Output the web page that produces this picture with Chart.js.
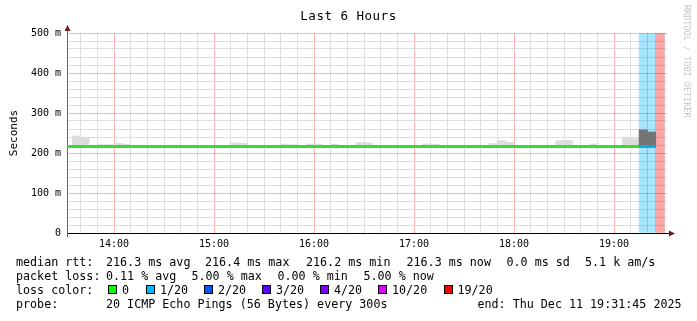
<!DOCTYPE html>
<html>
<head>
<meta charset="utf-8">
<script src="https://cdn.jsdelivr.net/npm/chart.js@4.4.1/dist/chart.umd.min.js"></script>
<style>
  html, body { margin: 0; padding: 0; background: #fff; }
  #wrap { position: relative; width: 697px; height: 321px; overflow: hidden;
          font-family: 'DejaVu Sans Mono', monospace; color: #000; }
  #chart { position: absolute; left: 0; top: 0; }
  .title { position: absolute; left: 0; top: 8px; width: 697px; text-align: center;
           font-size: 12.5px; letter-spacing: 0.5px; line-height: 16px; }
  .watermark { position: absolute; left: 682px; top: 5px; writing-mode: vertical-rl;
               font-size: 8.5px; line-height: 10px; color: #c6c6c6; white-space: pre; }
  .leg { position: absolute; font-size: 11.7px; line-height: 14px; white-space: pre; }
  .box { position: absolute; top: 285px; width: 7px; height: 7px; border: 1px solid #000; }
</style>
</head>
<body>
<div id="wrap">
  <canvas id="chart" width="697" height="321"></canvas>
  <div class="title">Last 6 Hours</div>
  <div class="watermark">RRDTOOL / TOBI OETIKER</div>

  <span class="leg" style="left:16px;top:255px">median rtt:</span>
  <span class="leg" style="left:106px;top:255px">216.3 ms avg</span>
  <span class="leg" style="left:205px;top:255px">216.4 ms max</span>
  <span class="leg" style="left:306px;top:255px">216.2 ms min</span>
  <span class="leg" style="left:406.5px;top:255px">216.3 ms now</span>
  <span class="leg" style="left:506.5px;top:255px">0.0 ms sd</span>
  <span class="leg" style="left:585px;top:255px">5.1 k am/s</span>

  <span class="leg" style="left:16px;top:269px">packet loss:</span>
  <span class="leg" style="left:106px;top:269px">0.11 % avg</span>
  <span class="leg" style="left:191.5px;top:269px">5.00 % max</span>
  <span class="leg" style="left:277.5px;top:269px">0.00 % min</span>
  <span class="leg" style="left:363.5px;top:269px">5.00 % now</span>

  <span class="leg" style="left:16px;top:283px">loss color:</span>
  <span class="box" style="left:108px;background:#00ff00"></span><span class="leg" style="left:122px;top:283px">0</span>
  <span class="box" style="left:146px;background:#00b8ff"></span><span class="leg" style="left:160px;top:283px">1/20</span>
  <span class="box" style="left:204px;background:#0059ff"></span><span class="leg" style="left:218px;top:283px">2/20</span>
  <span class="box" style="left:262px;background:#5e00ff"></span><span class="leg" style="left:276px;top:283px">3/20</span>
  <span class="box" style="left:320px;background:#7e00ff"></span><span class="leg" style="left:334px;top:283px">4/20</span>
  <span class="box" style="left:378px;background:#dd00ff"></span><span class="leg" style="left:392px;top:283px">10/20</span>
  <span class="box" style="left:443.5px;background:#ff0000"></span><span class="leg" style="left:457.5px;top:283px">19/20</span>

  <span class="leg" style="left:16px;top:297px">probe:</span>
  <span class="leg" style="left:106px;top:297px">20 ICMP Echo Pings (56 Bytes) every 300s</span>
  <span class="leg" style="left:477.5px;top:297px">end: Thu Dec 11 19:31:45 2025</span>
</div>

<script>
// 5-minute RRD bins (start times)
const BIN_START = [
  '13:30','13:35','13:40','13:45','13:50','13:55','14:00','14:05','14:10','14:15','14:20','14:25',
  '14:30','14:35','14:40','14:45','14:50','14:55','15:00','15:05','15:10','15:15','15:20','15:25',
  '15:30','15:35','15:40','15:45','15:50','15:55','16:00','16:05','16:10','16:15','16:20','16:25',
  '16:30','16:35','16:40','16:45','16:50','16:55','17:00','17:05','17:10','17:15','17:20','17:25',
  '17:30','17:35','17:40','17:45','17:50','17:55','18:00','18:05','18:10','18:15','18:20','18:25',
  '18:30','18:35','18:40','18:45','18:50','18:55','19:00','19:05','19:10','19:15','19:20','19:25',
];

// median rtt per bin (ms)
const MEDIAN_MS = [
  216.3, 216.3, 216.4, 216.3, 216.3, 216.2, 216.3, 216.3, 216.3, 216.4, 216.3, 216.3,
  216.3, 216.2, 216.3, 216.3, 216.3, 216.3, 216.4, 216.3, 216.3, 216.3, 216.2, 216.3,
  216.3, 216.3, 216.3, 216.4, 216.3, 216.3, 216.3, 216.3, 216.2, 216.3, 216.3, 216.3,
  216.3, 216.3, 216.4, 216.3, 216.3, 216.3, 216.2, 216.3, 216.3, 216.3, 216.3, 216.4,
  216.3, 216.3, 216.3, 216.2, 216.3, 216.3, 216.3, 216.3, 216.4, 216.3, 216.3, 216.3,
  216.3, 216.2, 216.3, 216.3, 216.3, 216.4, 216.3, 216.3, 216.3, 216.3, 216.3, null,
];

// lost pings out of 20 per bin
const LOSS = [
  0, 0, 0, 0, 0, 0, 0, 0, 0, 0, 0, 0,
  0, 0, 0, 0, 0, 0, 0, 0, 0, 0, 0, 0,
  0, 0, 0, 0, 0, 0, 0, 0, 0, 0, 0, 0,
  0, 0, 0, 0, 0, 0, 0, 0, 0, 0, 0, 0,
  0, 0, 0, 0, 0, 0, 0, 0, 0, 0, 0, 0,
  0, 0, 0, 0, 0, 0, 0, 0, 0, 1, 1, 19,
];

// smoke (ping spread) per bin (ms)
const SMOKE_MIN_MS = [
  215.1, 215.0, 215.2, 215.1, 215.0, 215.1, 215.2, 215.1, 215.0, 215.1, 215.1, 215.0,
  215.1, 215.2, 215.0, 215.1, 215.1, 215.0, 215.1, 215.2, 215.1, 215.0, 215.1, 215.1,
  215.0, 215.1, 215.2, 215.1, 215.0, 215.1, 215.1, 215.0, 215.1, 215.2, 215.1, 215.0,
  215.1, 215.1, 215.0, 215.1, 215.2, 215.1, 215.0, 215.1, 215.1, 215.0, 215.1, 215.2,
  215.1, 215.0, 215.1, 215.1, 215.0, 215.1, 215.2, 215.1, 215.0, 215.1, 215.1, 215.0,
  215.1, 215.2, 215.1, 215.0, 215.1, 215.1, 215.0, 215.1, 215.2, 215.0, 215.0, null,
];
const SMOKE_MAX_MS = [
  219.0, 242.5, 238.0, 220.0, 221.0, 221.0, 224.0, 222.0, 219.5, 219.0, 219.0, 219.2,
  219.0, 219.4, 219.0, 219.0, 219.2, 219.0, 219.0, 219.4, 225.0, 225.0, 219.5, 219.0,
  219.0, 219.3, 222.0, 221.0, 219.0, 222.5, 222.0, 219.4, 222.0, 219.0, 219.3, 226.0,
  225.0, 219.0, 219.2, 219.0, 219.0, 219.4, 219.0, 222.5, 222.0, 219.0, 219.2, 219.0,
  219.0, 219.3, 219.0, 223.5, 231.0, 227.0, 219.0, 219.2, 219.0, 219.0, 219.4, 230.5,
  231.5, 219.0, 219.0, 222.5, 219.0, 219.3, 219.0, 239.0, 236.0, 258.0, 252.5, null,
];
const DARK_SMOKE_BINS = ['19:15', '19:20'];

// axis
const X_START = '13:31:45';
const X_END = '19:31:45';
const BIN_MINUTES = 5;
const GRID_TIMES = [
  '13:40','13:50',
  '14:00','14:10','14:20','14:30','14:40','14:50',
  '15:00','15:10','15:20','15:30','15:40','15:50',
  '16:00','16:10','16:20','16:30','16:40','16:50',
  '17:00','17:10','17:20','17:30','17:40','17:50',
  '18:00','18:10','18:20','18:30','18:40','18:50',
  '19:00','19:10','19:20','19:30',
];
const HOUR_LABELS = ['14:00', '15:00', '16:00', '17:00', '18:00', '19:00'];
const Y_MAX_MS = 500;

const LINE_COLORS = { 0: '#30e030', 1: '#12a6ea' };
const BAND_COLORS = { 1: 'rgba(0,184,255,0.35)', 19: 'rgba(255,0,0,0.35)' };

const MONO = "'DejaVu Sans Mono', monospace";

function toMin(t) {
  const [h, m, s] = t.split(':').map(Number);
  return h * 60 + m + (s || 0) / 60;
}
function fmtTime(v) {
  const h = Math.floor(v / 60), m = Math.round(v % 60);
  return String(h).padStart(2, '0') + ':' + String(m).padStart(2, '0');
}

// median line: one flat piece per bin
const medianPts = [];
BIN_START.forEach((t, i) => {
  if (MEDIAN_MS[i] == null) return;
  const x0 = toMin(t);
  medianPts.push({ x: x0, y: MEDIAN_MS[i], loss: LOSS[i] });
  medianPts.push({ x: x0 + BIN_MINUTES, y: MEDIAN_MS[i], loss: LOSS[i] });
});

const smokePts = BIN_START
  .map((t, i) => SMOKE_MAX_MS[i] == null ? null
    : { x: toMin(t) + BIN_MINUTES / 2, y: [SMOKE_MIN_MS[i], SMOKE_MAX_MS[i]], bin: t })
  .filter(Boolean);

const bandPts = BIN_START
  .map((t, i) => LOSS[i] > 0 ? { x: toMin(t) + BIN_MINUTES / 2, y: [0, Y_MAX_MS], loss: LOSS[i] } : null)
  .filter(Boolean);

const axisArrows = {
  id: 'axisArrows',
  afterDraw(chart) {
    const { ctx, chartArea: a } = chart;
    ctx.save();
    ctx.lineWidth = 1;
    ctx.strokeStyle = '#666';
    ctx.beginPath();
    ctx.moveTo(a.left + 0.5, a.top); ctx.lineTo(a.left + 0.5, a.top - 3);
    ctx.moveTo(a.left + 0.5, a.bottom); ctx.lineTo(a.left + 0.5, a.bottom + 4);
    ctx.stroke();
    ctx.strokeStyle = '#000';
    ctx.beginPath();
    ctx.moveTo(a.right, a.bottom + 0.5); ctx.lineTo(a.right + 3, a.bottom + 0.5);
    ctx.stroke();
    ctx.fillStyle = '#7b1a1a';
    ctx.beginPath();
    ctx.moveTo(a.left + 0.5, a.top - 8); ctx.lineTo(a.left - 2.5, a.top - 2); ctx.lineTo(a.left + 3.5, a.top - 2);
    ctx.closePath(); ctx.fill();
    ctx.beginPath();
    ctx.moveTo(a.right + 8, a.bottom + 0.5); ctx.lineTo(a.right + 2, a.bottom - 2.5); ctx.lineTo(a.right + 2, a.bottom + 3.5);
    ctx.closePath(); ctx.fill();
    ctx.restore();
  }
};

new Chart(document.getElementById('chart'), {
  type: 'line',
  data: {
    datasets: [
      {
        type: 'line', data: medianPts, order: 0,
        borderWidth: 3, pointRadius: 0, tension: 0, fill: false,
        borderColor: LINE_COLORS[0],
        segment: { borderColor: c => LINE_COLORS[medianPts[c.p0DataIndex].loss] || LINE_COLORS[0] },
      },
      {
        type: 'bar', data: smokePts, order: 1, grouped: false,
        barPercentage: 1, categoryPercentage: 1, borderWidth: 0,
        backgroundColor: c => (c.raw && DARK_SMOKE_BINS.includes(c.raw.bin)) ? '#747474' : '#dcdcdc',
      },
      {
        type: 'bar', data: bandPts, order: 2, grouped: false,
        barPercentage: 1, categoryPercentage: 1, borderWidth: 0,
        backgroundColor: c => (c.raw && BAND_COLORS[c.raw.loss]) || 'transparent',
      },
    ],
  },
  options: {
    responsive: false, animation: false, devicePixelRatio: 1,
    layout: { padding: { top: 33, right: 30, bottom: 0, left: 0 } },
    plugins: { legend: { display: false }, tooltip: { enabled: false }, title: { display: false } },
    scales: {
      x: {
        type: 'linear', min: toMin(X_START), max: toMin(X_END), bounds: 'data', offset: false,
        afterBuildTicks: s => { s.ticks = GRID_TIMES.map(t => ({ value: toMin(t) })); },
        afterFit: s => { s.height = 88; },
        grid: {
          offset: false, drawTicks: false, lineWidth: 1,
          color: c => (c.tick && HOUR_LABELS.includes(fmtTime(c.tick.value))) ? 'rgba(255,0,0,0.3)' : '#dedede',
        },
        border: { color: '#000', width: 1 },
        ticks: {
          autoSkip: false, maxRotation: 0, minRotation: 0, padding: 5, color: '#000',
          font: { family: MONO, size: 10 },
          callback: v => HOUR_LABELS.includes(fmtTime(v)) ? fmtTime(v) : '',
        },
      },
      y: {
        type: 'linear', min: 0, max: Y_MAX_MS,
        afterFit: s => { s.width = 67; },
        grid: {
          drawTicks: false, lineWidth: 1,
          color: c => (c.tick && c.tick.value % 100 === 0) ? 'rgba(255,0,0,0.3)' : '#dedede',
        },
        border: { color: '#666', width: 1 },
        ticks: {
          stepSize: 20, maxTicksLimit: 30, autoSkip: false, padding: 6, color: '#000',
          font: { family: MONO, size: 10 },
          callback: v => v % 100 !== 0 ? '' : (v === 0 ? '0' : v + ' m'),
        },
        title: {
          display: true, text: 'Seconds', color: '#000',
          font: { family: MONO, size: 11 }, padding: { top: 8, bottom: 0 },
        },
      },
    },
  },
  plugins: [axisArrows],
});
</script>
</body>
</html>
